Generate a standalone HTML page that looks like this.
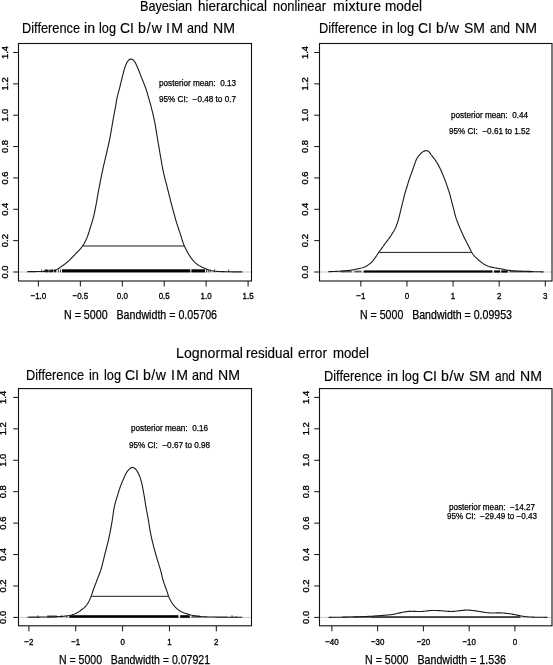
<!DOCTYPE html>
<html><head><meta charset="utf-8"><style>
html,body{margin:0;padding:0;background:#fff;width:553px;height:665px;overflow:hidden}
body{position:relative;font-family:"Liberation Sans", sans-serif}
text{white-space:pre;stroke:#000;stroke-width:0.25px}
text.t{stroke-width:0.15px}
text.k{stroke-width:0.35px}
svg{will-change:transform}
</style></head><body>
<svg width="553" height="665" viewBox="0 0 553 665" style="position:absolute;left:0;top:0" font-family='&quot;Liberation Sans&quot;, sans-serif'>
<rect width="553" height="665" fill="#fff"/>
<line x1="18.50" y1="272.00" x2="251.50" y2="272.00" stroke="#bbb" stroke-width="0.8"/>
<line x1="319.50" y1="272.00" x2="552.00" y2="272.00" stroke="#bbb" stroke-width="0.8"/>
<line x1="18.50" y1="617.40" x2="251.50" y2="617.40" stroke="#bbb" stroke-width="0.8"/>
<line x1="319.50" y1="617.40" x2="552.00" y2="617.40" stroke="#bbb" stroke-width="0.8"/>
<rect x="18.50" y="43.50" width="233.00" height="237.50" fill="none" stroke="#111" stroke-width="1.1"/>
<rect x="319.50" y="43.50" width="232.50" height="237.50" fill="none" stroke="#111" stroke-width="1.1"/>
<rect x="18.50" y="388.60" width="233.00" height="237.20" fill="none" stroke="#111" stroke-width="1.1"/>
<rect x="319.50" y="388.60" width="232.50" height="237.20" fill="none" stroke="#111" stroke-width="1.1"/>
<rect x="62.00" y="269.30" width="128.30" height="3.10" fill="#000" fill-opacity="1.00"/>
<rect x="191.40" y="269.30" width="13.60" height="3.10" fill="#000" fill-opacity="1.00"/>
<rect x="44.50" y="269.50" width="4.00" height="2.80" fill="#000" fill-opacity="0.90"/>
<rect x="49.50" y="269.50" width="3.50" height="2.80" fill="#000" fill-opacity="0.90"/>
<rect x="54.00" y="269.50" width="2.30" height="2.80" fill="#000" fill-opacity="0.90"/>
<rect x="41.00" y="269.50" width="1.00" height="2.80" fill="#000" fill-opacity="0.70"/>
<rect x="58.10" y="269.50" width="1.00" height="2.80" fill="#000" fill-opacity="0.70"/>
<rect x="60.00" y="269.50" width="1.00" height="2.80" fill="#000" fill-opacity="0.70"/>
<rect x="206.00" y="269.50" width="1.00" height="2.80" fill="#000" fill-opacity="0.70"/>
<rect x="207.80" y="269.50" width="1.00" height="2.80" fill="#000" fill-opacity="0.70"/>
<rect x="209.70" y="269.50" width="1.00" height="2.80" fill="#000" fill-opacity="0.70"/>
<rect x="214.00" y="269.50" width="1.00" height="2.80" fill="#000" fill-opacity="0.70"/>
<rect x="228.10" y="269.50" width="1.00" height="2.80" fill="#000" fill-opacity="0.70"/>
<rect x="363.60" y="270.40" width="128.90" height="2.20" fill="#000" fill-opacity="1.00"/>
<rect x="494.10" y="270.40" width="6.00" height="2.20" fill="#000" fill-opacity="1.00"/>
<rect x="501.20" y="270.40" width="6.50" height="2.20" fill="#000" fill-opacity="1.00"/>
<rect x="340.80" y="270.60" width="10.90" height="1.80" fill="#000" fill-opacity="0.60"/>
<rect x="354.40" y="270.60" width="7.20" height="1.80" fill="#000" fill-opacity="0.60"/>
<rect x="509.30" y="270.60" width="21.70" height="1.80" fill="#000" fill-opacity="0.60"/>
<rect x="69.40" y="615.20" width="109.00" height="2.60" fill="#000" fill-opacity="1.00"/>
<rect x="180.10" y="615.20" width="9.70" height="2.60" fill="#000" fill-opacity="1.00"/>
<rect x="47.10" y="615.40" width="9.80" height="2.20" fill="#000" fill-opacity="0.60"/>
<rect x="191.50" y="615.40" width="8.60" height="2.20" fill="#000" fill-opacity="0.60"/>
<rect x="37.40" y="615.40" width="1.00" height="2.20" fill="#000" fill-opacity="0.80"/>
<rect x="60.70" y="615.40" width="1.00" height="2.20" fill="#000" fill-opacity="0.80"/>
<rect x="66.20" y="615.40" width="1.00" height="2.20" fill="#000" fill-opacity="0.80"/>
<rect x="200.10" y="616.20" width="5.50" height="1.40" fill="#000" fill-opacity="0.25"/>
<rect x="231.50" y="615.40" width="1.00" height="2.40" fill="#000" fill-opacity="0.90"/>
<rect x="234.30" y="616.00" width="3.30" height="1.60" fill="#000" fill-opacity="0.30"/>
<rect x="371.00" y="616.10" width="149.40" height="1.90" fill="#222" fill-opacity="0.85"/>
<rect x="352.80" y="616.10" width="18.20" height="1.90" fill="#222" fill-opacity="0.60"/>
<rect x="343.00" y="616.10" width="9.80" height="1.90" fill="#000" fill-opacity="0.30"/>
<line x1="13.20" y1="272.00" x2="18.50" y2="272.00" stroke="#111" stroke-width="1.00"/>
<line x1="13.20" y1="240.64" x2="18.50" y2="240.64" stroke="#111" stroke-width="1.00"/>
<line x1="13.20" y1="209.29" x2="18.50" y2="209.29" stroke="#111" stroke-width="1.00"/>
<line x1="13.20" y1="177.93" x2="18.50" y2="177.93" stroke="#111" stroke-width="1.00"/>
<line x1="13.20" y1="146.57" x2="18.50" y2="146.57" stroke="#111" stroke-width="1.00"/>
<line x1="13.20" y1="115.21" x2="18.50" y2="115.21" stroke="#111" stroke-width="1.00"/>
<line x1="13.20" y1="83.86" x2="18.50" y2="83.86" stroke="#111" stroke-width="1.00"/>
<line x1="13.20" y1="52.50" x2="18.50" y2="52.50" stroke="#111" stroke-width="1.00"/>
<line x1="38.40" y1="281.00" x2="38.40" y2="286.50" stroke="#111" stroke-width="1.00"/>
<line x1="80.35" y1="281.00" x2="80.35" y2="286.50" stroke="#111" stroke-width="1.00"/>
<line x1="122.30" y1="281.00" x2="122.30" y2="286.50" stroke="#111" stroke-width="1.00"/>
<line x1="164.20" y1="281.00" x2="164.20" y2="286.50" stroke="#111" stroke-width="1.00"/>
<line x1="206.10" y1="281.00" x2="206.10" y2="286.50" stroke="#111" stroke-width="1.00"/>
<line x1="248.10" y1="281.00" x2="248.10" y2="286.50" stroke="#111" stroke-width="1.00"/>
<line x1="314.20" y1="272.00" x2="319.50" y2="272.00" stroke="#111" stroke-width="1.00"/>
<line x1="314.20" y1="240.64" x2="319.50" y2="240.64" stroke="#111" stroke-width="1.00"/>
<line x1="314.20" y1="209.29" x2="319.50" y2="209.29" stroke="#111" stroke-width="1.00"/>
<line x1="314.20" y1="177.93" x2="319.50" y2="177.93" stroke="#111" stroke-width="1.00"/>
<line x1="314.20" y1="146.57" x2="319.50" y2="146.57" stroke="#111" stroke-width="1.00"/>
<line x1="314.20" y1="115.21" x2="319.50" y2="115.21" stroke="#111" stroke-width="1.00"/>
<line x1="314.20" y1="83.86" x2="319.50" y2="83.86" stroke="#111" stroke-width="1.00"/>
<line x1="314.20" y1="52.50" x2="319.50" y2="52.50" stroke="#111" stroke-width="1.00"/>
<line x1="360.85" y1="281.00" x2="360.85" y2="286.50" stroke="#111" stroke-width="1.00"/>
<line x1="406.96" y1="281.00" x2="406.96" y2="286.50" stroke="#111" stroke-width="1.00"/>
<line x1="453.07" y1="281.00" x2="453.07" y2="286.50" stroke="#111" stroke-width="1.00"/>
<line x1="499.18" y1="281.00" x2="499.18" y2="286.50" stroke="#111" stroke-width="1.00"/>
<line x1="545.30" y1="281.00" x2="545.30" y2="286.50" stroke="#111" stroke-width="1.00"/>
<line x1="13.20" y1="617.40" x2="18.50" y2="617.40" stroke="#111" stroke-width="1.00"/>
<line x1="13.20" y1="585.97" x2="18.50" y2="585.97" stroke="#111" stroke-width="1.00"/>
<line x1="13.20" y1="554.54" x2="18.50" y2="554.54" stroke="#111" stroke-width="1.00"/>
<line x1="13.20" y1="523.11" x2="18.50" y2="523.11" stroke="#111" stroke-width="1.00"/>
<line x1="13.20" y1="491.69" x2="18.50" y2="491.69" stroke="#111" stroke-width="1.00"/>
<line x1="13.20" y1="460.26" x2="18.50" y2="460.26" stroke="#111" stroke-width="1.00"/>
<line x1="13.20" y1="428.83" x2="18.50" y2="428.83" stroke="#111" stroke-width="1.00"/>
<line x1="13.20" y1="397.40" x2="18.50" y2="397.40" stroke="#111" stroke-width="1.00"/>
<line x1="28.90" y1="625.80" x2="28.90" y2="631.30" stroke="#111" stroke-width="1.00"/>
<line x1="75.75" y1="625.80" x2="75.75" y2="631.30" stroke="#111" stroke-width="1.00"/>
<line x1="122.60" y1="625.80" x2="122.60" y2="631.30" stroke="#111" stroke-width="1.00"/>
<line x1="169.45" y1="625.80" x2="169.45" y2="631.30" stroke="#111" stroke-width="1.00"/>
<line x1="216.30" y1="625.80" x2="216.30" y2="631.30" stroke="#111" stroke-width="1.00"/>
<line x1="314.20" y1="617.40" x2="319.50" y2="617.40" stroke="#111" stroke-width="1.00"/>
<line x1="314.20" y1="585.97" x2="319.50" y2="585.97" stroke="#111" stroke-width="1.00"/>
<line x1="314.20" y1="554.54" x2="319.50" y2="554.54" stroke="#111" stroke-width="1.00"/>
<line x1="314.20" y1="523.11" x2="319.50" y2="523.11" stroke="#111" stroke-width="1.00"/>
<line x1="314.20" y1="491.69" x2="319.50" y2="491.69" stroke="#111" stroke-width="1.00"/>
<line x1="314.20" y1="460.26" x2="319.50" y2="460.26" stroke="#111" stroke-width="1.00"/>
<line x1="314.20" y1="428.83" x2="319.50" y2="428.83" stroke="#111" stroke-width="1.00"/>
<line x1="314.20" y1="397.40" x2="319.50" y2="397.40" stroke="#111" stroke-width="1.00"/>
<line x1="331.90" y1="625.80" x2="331.90" y2="631.30" stroke="#111" stroke-width="1.00"/>
<line x1="377.65" y1="625.80" x2="377.65" y2="631.30" stroke="#111" stroke-width="1.00"/>
<line x1="423.40" y1="625.80" x2="423.40" y2="631.30" stroke="#111" stroke-width="1.00"/>
<line x1="469.15" y1="625.80" x2="469.15" y2="631.30" stroke="#111" stroke-width="1.00"/>
<line x1="514.90" y1="625.80" x2="514.90" y2="631.30" stroke="#111" stroke-width="1.00"/>
<line x1="82.30" y1="246.00" x2="184.20" y2="246.00" stroke="#1a1a1a" stroke-width="1.00"/>
<line x1="379.30" y1="252.40" x2="471.60" y2="252.40" stroke="#1a1a1a" stroke-width="1.00"/>
<line x1="91.20" y1="596.30" x2="168.60" y2="596.30" stroke="#1a1a1a" stroke-width="1.00"/>
<path d="M27.13,271.69 L27.76,271.68 L28.58,271.67 L29.52,271.66 L30.51,271.65 L31.50,271.64 L32.50,271.63 L33.50,271.61 L34.51,271.60 L35.51,271.58 L36.51,271.57 L37.51,271.55 L38.51,271.53 L39.51,271.51 L40.51,271.49 L41.51,271.46 L42.51,271.43 L43.51,271.40 L44.51,271.37 L45.51,271.34 L46.51,271.30 L47.51,271.25 L48.51,271.19 L49.51,271.12 L50.50,271.03 L51.50,270.93 L52.49,270.79 L53.47,270.62 L54.44,270.40 L55.39,270.11 L56.31,269.74 L57.20,269.30 L58.05,268.80 L58.90,268.26 L59.73,267.71 L60.55,267.14 L61.37,266.57 L62.19,265.99 L63.00,265.41 L63.82,264.82 L64.63,264.24 L65.43,263.64 L66.22,263.02 L66.99,262.39 L67.74,261.73 L68.48,261.05 L69.20,260.37 L69.92,259.67 L70.64,258.97 L71.35,258.26 L72.05,257.55 L72.76,256.84 L73.46,256.13 L74.15,255.41 L74.85,254.69 L75.54,253.97 L76.23,253.24 L76.92,252.52 L77.61,251.79 L78.30,251.06 L78.98,250.33 L79.65,249.59 L80.31,248.84 L80.95,248.07 L81.58,247.29 L82.18,246.49 L82.76,245.68 L83.31,244.84 L83.83,243.99 L84.33,243.13 L84.82,242.25 L85.28,241.37 L85.73,240.47 L86.16,239.57 L86.57,238.66 L86.96,237.74 L87.34,236.81 L87.69,235.87 L88.02,234.93 L88.34,233.98 L88.65,233.03 L88.96,232.08 L89.27,231.13 L89.57,230.17 L89.86,229.21 L90.15,228.26 L90.44,227.30 L90.72,226.34 L91.01,225.38 L91.30,224.42 L91.59,223.47 L91.89,222.51 L92.18,221.55 L92.48,220.60 L92.77,219.64 L93.04,218.68 L93.31,217.71 L93.57,216.75 L93.81,215.78 L94.04,214.80 L94.26,213.83 L94.47,212.85 L94.68,211.87 L94.88,210.89 L95.08,209.91 L95.27,208.93 L95.46,207.94 L95.65,206.96 L95.84,205.98 L96.02,204.99 L96.20,204.01 L96.38,203.02 L96.55,202.04 L96.72,201.05 L96.89,200.07 L97.07,199.08 L97.24,198.10 L97.41,197.11 L97.58,196.12 L97.75,195.14 L97.92,194.15 L98.10,193.17 L98.27,192.18 L98.45,191.20 L98.63,190.21 L98.81,189.23 L99.00,188.24 L99.19,187.26 L99.38,186.28 L99.57,185.30 L99.76,184.31 L99.95,183.33 L100.14,182.35 L100.33,181.37 L100.53,180.39 L100.72,179.40 L100.91,178.42 L101.11,177.44 L101.31,176.46 L101.51,175.48 L101.71,174.50 L101.91,173.52 L102.12,172.54 L102.33,171.56 L102.54,170.58 L102.75,169.61 L102.97,168.63 L103.19,167.65 L103.41,166.68 L103.63,165.70 L103.85,164.72 L104.08,163.75 L104.31,162.77 L104.53,161.80 L104.76,160.83 L104.99,159.85 L105.21,158.88 L105.44,157.90 L105.67,156.93 L105.89,155.95 L106.11,154.98 L106.34,154.00 L106.56,153.03 L106.79,152.05 L107.01,151.07 L107.24,150.10 L107.46,149.13 L107.69,148.15 L107.91,147.18 L108.14,146.20 L108.36,145.22 L108.58,144.25 L108.80,143.27 L109.01,142.29 L109.23,141.32 L109.43,140.34 L109.64,139.36 L109.84,138.38 L110.03,137.40 L110.22,136.41 L110.41,135.43 L110.59,134.44 L110.76,133.46 L110.93,132.47 L111.11,131.49 L111.27,130.50 L111.44,129.51 L111.61,128.53 L111.77,127.54 L111.94,126.55 L112.10,125.57 L112.27,124.58 L112.44,123.59 L112.61,122.61 L112.78,121.62 L112.96,120.64 L113.13,119.65 L113.31,118.67 L113.49,117.68 L113.67,116.70 L113.85,115.71 L114.03,114.73 L114.21,113.75 L114.40,112.76 L114.58,111.78 L114.76,110.79 L114.94,109.81 L115.12,108.82 L115.30,107.84 L115.48,106.85 L115.65,105.87 L115.82,104.88 L115.99,103.90 L116.16,102.91 L116.32,101.92 L116.49,100.94 L116.66,99.95 L116.84,98.97 L117.03,97.98 L117.24,97.01 L117.47,96.03 L117.71,95.06 L117.96,94.09 L118.22,93.13 L118.49,92.16 L118.76,91.20 L119.02,90.23 L119.28,89.27 L119.54,88.30 L119.79,87.33 L120.03,86.36 L120.27,85.39 L120.50,84.41 L120.73,83.44 L120.97,82.47 L121.20,81.49 L121.43,80.52 L121.67,79.55 L121.91,78.58 L122.16,77.61 L122.40,76.64 L122.66,75.67 L122.91,74.70 L123.16,73.73 L123.40,72.76 L123.65,71.79 L123.90,70.82 L124.16,69.86 L124.44,68.90 L124.75,67.95 L125.08,67.00 L125.41,66.06 L125.76,65.12 L126.13,64.20 L126.55,63.29 L127.01,62.41 L127.52,61.56 L128.10,60.76 L128.76,60.06 L129.51,59.50 L130.34,59.15 L131.22,59.06 L132.08,59.24 L132.88,59.68 L133.60,60.30 L134.22,61.05 L134.77,61.87 L135.27,62.73 L135.74,63.61 L136.18,64.51 L136.61,65.41 L137.02,66.32 L137.43,67.23 L137.83,68.15 L138.22,69.08 L138.59,70.00 L138.95,70.94 L139.30,71.87 L139.66,72.81 L140.02,73.74 L140.38,74.67 L140.75,75.61 L141.12,76.54 L141.49,77.47 L141.86,78.39 L142.23,79.32 L142.61,80.25 L142.99,81.18 L143.36,82.11 L143.74,83.03 L144.11,83.96 L144.48,84.89 L144.85,85.82 L145.20,86.76 L145.54,87.70 L145.87,88.65 L146.18,89.60 L146.49,90.55 L146.78,91.51 L147.07,92.46 L147.35,93.42 L147.62,94.39 L147.90,95.35 L148.18,96.31 L148.46,97.27 L148.74,98.23 L149.02,99.19 L149.31,100.15 L149.59,101.11 L149.87,102.07 L150.15,103.03 L150.41,104.00 L150.67,104.96 L150.93,105.93 L151.17,106.90 L151.42,107.87 L151.67,108.84 L151.91,109.81 L152.15,110.78 L152.39,111.75 L152.63,112.73 L152.86,113.70 L153.09,114.67 L153.32,115.65 L153.54,116.62 L153.76,117.60 L153.98,118.58 L154.19,119.55 L154.39,120.53 L154.59,121.51 L154.79,122.50 L154.97,123.48 L155.15,124.46 L155.33,125.45 L155.50,126.43 L155.67,127.42 L155.83,128.41 L155.99,129.40 L156.15,130.38 L156.31,131.37 L156.47,132.36 L156.63,133.35 L156.79,134.34 L156.95,135.32 L157.11,136.31 L157.27,137.30 L157.43,138.29 L157.60,139.27 L157.76,140.26 L157.93,141.25 L158.10,142.23 L158.26,143.22 L158.43,144.21 L158.59,145.20 L158.76,146.18 L158.93,147.17 L159.09,148.16 L159.26,149.14 L159.43,150.13 L159.60,151.12 L159.77,152.10 L159.94,153.09 L160.11,154.07 L160.28,155.06 L160.45,156.05 L160.62,157.03 L160.79,158.02 L160.95,159.01 L161.12,159.99 L161.29,160.98 L161.46,161.96 L161.63,162.95 L161.80,163.94 L161.98,164.92 L162.16,165.91 L162.34,166.89 L162.53,167.87 L162.72,168.85 L162.92,169.84 L163.13,170.81 L163.34,171.79 L163.55,172.77 L163.78,173.75 L164.01,174.72 L164.24,175.69 L164.48,176.67 L164.72,177.64 L164.96,178.61 L165.21,179.58 L165.46,180.55 L165.71,181.51 L165.96,182.48 L166.21,183.45 L166.46,184.42 L166.71,185.39 L166.96,186.36 L167.20,187.33 L167.45,188.30 L167.69,189.27 L167.94,190.24 L168.18,191.21 L168.42,192.18 L168.67,193.15 L168.91,194.12 L169.16,195.09 L169.40,196.06 L169.65,197.03 L169.89,198.01 L170.14,198.98 L170.38,199.95 L170.63,200.91 L170.88,201.88 L171.13,202.85 L171.38,203.82 L171.63,204.79 L171.88,205.76 L172.14,206.73 L172.40,207.69 L172.66,208.66 L172.92,209.63 L173.18,210.59 L173.45,211.56 L173.71,212.52 L173.98,213.49 L174.25,214.45 L174.51,215.42 L174.77,216.38 L175.04,217.35 L175.30,218.31 L175.57,219.28 L175.84,220.24 L176.12,221.20 L176.41,222.16 L176.71,223.11 L177.01,224.07 L177.32,225.02 L177.63,225.97 L177.95,226.92 L178.26,227.87 L178.58,228.82 L178.90,229.76 L179.22,230.71 L179.54,231.66 L179.86,232.61 L180.18,233.56 L180.49,234.51 L180.80,235.46 L181.09,236.42 L181.39,237.37 L181.68,238.33 L181.97,239.29 L182.27,240.24 L182.58,241.20 L182.90,242.14 L183.23,243.09 L183.58,244.02 L183.95,244.95 L184.35,245.87 L184.75,246.79 L185.17,247.69 L185.61,248.60 L186.05,249.49 L186.50,250.38 L186.97,251.27 L187.45,252.15 L187.94,253.02 L188.44,253.89 L188.96,254.74 L189.49,255.59 L190.04,256.42 L190.61,257.25 L191.19,258.06 L191.80,258.85 L192.42,259.64 L193.07,260.40 L193.73,261.14 L194.42,261.87 L195.14,262.56 L195.88,263.23 L196.65,263.87 L197.44,264.48 L198.25,265.06 L199.09,265.60 L199.95,266.11 L200.83,266.58 L201.72,267.04 L202.63,267.46 L203.54,267.87 L204.46,268.27 L205.38,268.65 L206.31,269.02 L207.25,269.38 L208.18,269.73 L209.13,270.05 L210.08,270.34 L211.05,270.59 L212.03,270.80 L213.01,270.97 L214.00,271.10 L215.00,271.21 L215.99,271.31 L216.99,271.38 L217.99,271.44 L218.99,271.49 L219.99,271.54 L220.99,271.58 L221.99,271.61 L222.99,271.64 L223.99,271.66 L224.99,271.69 L225.99,271.71 L226.99,271.73 L227.99,271.76 L228.99,271.78 L229.99,271.80 L230.99,271.82 L231.99,271.84 L232.99,271.85 L233.99,271.86 L234.99,271.87 L235.99,271.88 L237.00,271.88 L238.00,271.89 L238.99,271.89 L239.98,271.89 L240.92,271.89 L241.74,271.90 L242.37,271.90" fill="none" stroke="#1a1a1a" stroke-width="1.10" stroke-linejoin="round"/>
<path d="M328.33,271.68 L328.95,271.66 L329.78,271.63 L330.72,271.60 L331.70,271.56 L332.70,271.53 L333.70,271.49 L334.70,271.45 L335.70,271.41 L336.70,271.37 L337.70,271.32 L338.70,271.27 L339.70,271.21 L340.69,271.15 L341.69,271.08 L342.69,271.00 L343.69,270.92 L344.68,270.83 L345.68,270.74 L346.68,270.65 L347.67,270.55 L348.67,270.45 L349.66,270.33 L350.65,270.21 L351.64,270.06 L352.63,269.89 L353.61,269.70 L354.59,269.49 L355.56,269.29 L356.54,269.08 L357.52,268.88 L358.51,268.68 L359.48,268.48 L360.46,268.27 L361.44,268.04 L362.40,267.78 L363.35,267.48 L364.27,267.11 L365.17,266.69 L366.05,266.22 L366.91,265.71 L367.76,265.18 L368.59,264.63 L369.40,264.05 L370.19,263.44 L370.95,262.79 L371.67,262.10 L372.36,261.38 L373.01,260.63 L373.64,259.85 L374.24,259.05 L374.83,258.24 L375.41,257.43 L375.97,256.60 L376.53,255.77 L377.07,254.93 L377.62,254.09 L378.16,253.25 L378.72,252.42 L379.29,251.60 L379.88,250.79 L380.48,249.99 L381.09,249.20 L381.69,248.40 L382.28,247.59 L382.86,246.77 L383.43,245.95 L384.00,245.13 L384.57,244.31 L385.15,243.49 L385.74,242.69 L386.35,241.89 L386.96,241.10 L387.57,240.31 L388.18,239.52 L388.78,238.72 L389.37,237.91 L389.94,237.09 L390.51,236.26 L391.06,235.43 L391.61,234.59 L392.16,233.76 L392.71,232.92 L393.24,232.08 L393.77,231.22 L394.27,230.36 L394.74,229.48 L395.17,228.58 L395.57,227.67 L395.95,226.74 L396.31,225.80 L396.66,224.87 L397.01,223.93 L397.36,223.00 L397.69,222.05 L398.00,221.10 L398.29,220.14 L398.56,219.18 L398.81,218.21 L399.06,217.24 L399.30,216.27 L399.53,215.30 L399.77,214.33 L400.00,213.35 L400.23,212.38 L400.46,211.41 L400.70,210.43 L400.93,209.46 L401.16,208.49 L401.40,207.52 L401.63,206.54 L401.87,205.57 L402.11,204.60 L402.36,203.63 L402.61,202.66 L402.87,201.70 L403.12,200.73 L403.36,199.76 L403.59,198.78 L403.80,197.81 L404.02,196.83 L404.25,195.86 L404.50,194.89 L404.76,193.92 L405.05,192.97 L405.35,192.01 L405.65,191.06 L405.95,190.10 L406.25,189.15 L406.55,188.19 L406.85,187.24 L407.14,186.28 L407.42,185.32 L407.70,184.36 L407.98,183.40 L408.26,182.44 L408.55,181.48 L408.85,180.53 L409.16,179.58 L409.48,178.63 L409.81,177.68 L410.14,176.74 L410.49,175.80 L410.84,174.87 L411.19,173.93 L411.55,172.99 L411.89,172.05 L412.23,171.11 L412.57,170.17 L412.90,169.23 L413.23,168.28 L413.54,167.33 L413.85,166.38 L414.16,165.43 L414.48,164.48 L414.81,163.54 L415.14,162.59 L415.50,161.66 L415.87,160.73 L416.27,159.82 L416.71,158.92 L417.19,158.04 L417.70,157.19 L418.26,156.36 L418.86,155.57 L419.50,154.81 L420.19,154.08 L420.90,153.39 L421.65,152.73 L422.43,152.12 L423.26,151.58 L424.13,151.14 L425.05,150.82 L425.99,150.66 L426.93,150.69 L427.81,150.94 L428.60,151.40 L429.27,152.05 L429.86,152.82 L430.41,153.64 L430.97,154.47 L431.55,155.27 L432.16,156.07 L432.78,156.85 L433.41,157.63 L434.02,158.42 L434.62,159.22 L435.21,160.03 L435.78,160.85 L436.33,161.68 L436.87,162.52 L437.39,163.38 L437.89,164.24 L438.37,165.12 L438.84,166.00 L439.29,166.89 L439.74,167.79 L440.18,168.69 L440.61,169.59 L441.04,170.50 L441.45,171.41 L441.86,172.32 L442.25,173.24 L442.63,174.17 L443.01,175.09 L443.38,176.02 L443.75,176.95 L444.12,177.88 L444.49,178.81 L444.86,179.74 L445.23,180.67 L445.58,181.61 L445.91,182.55 L446.24,183.50 L446.56,184.44 L446.87,185.39 L447.20,186.34 L447.53,187.28 L447.86,188.23 L448.19,189.17 L448.52,190.12 L448.84,191.06 L449.15,192.01 L449.45,192.97 L449.74,193.93 L450.02,194.89 L450.27,195.86 L450.52,196.83 L450.75,197.80 L450.99,198.77 L451.23,199.74 L451.47,200.71 L451.73,201.68 L451.98,202.65 L452.24,203.61 L452.50,204.58 L452.75,205.55 L453.00,206.52 L453.25,207.48 L453.50,208.45 L453.75,209.42 L454.00,210.39 L454.24,211.36 L454.48,212.33 L454.73,213.30 L454.97,214.27 L455.22,215.24 L455.48,216.21 L455.75,217.17 L456.05,218.13 L456.37,219.07 L456.70,220.01 L457.06,220.95 L457.42,221.88 L457.78,222.82 L458.15,223.75 L458.52,224.68 L458.89,225.60 L459.28,226.53 L459.66,227.45 L460.06,228.37 L460.47,229.28 L460.87,230.20 L461.28,231.11 L461.68,232.03 L462.08,232.95 L462.47,233.87 L462.88,234.78 L463.29,235.69 L463.72,236.60 L464.16,237.50 L464.61,238.39 L465.06,239.28 L465.52,240.17 L465.98,241.06 L466.44,241.95 L466.89,242.84 L467.35,243.73 L467.81,244.62 L468.27,245.51 L468.73,246.39 L469.19,247.28 L469.65,248.17 L470.09,249.06 L470.52,249.97 L470.95,250.87 L471.39,251.76 L471.87,252.63 L472.40,253.47 L472.97,254.28 L473.59,255.07 L474.24,255.83 L474.91,256.56 L475.62,257.27 L476.34,257.97 L477.07,258.65 L477.81,259.32 L478.56,259.98 L479.33,260.63 L480.10,261.26 L480.88,261.89 L481.67,262.49 L482.48,263.08 L483.31,263.64 L484.15,264.18 L485.02,264.68 L485.90,265.14 L486.80,265.57 L487.72,265.96 L488.65,266.31 L489.60,266.62 L490.56,266.90 L491.53,267.15 L492.50,267.37 L493.48,267.57 L494.47,267.76 L495.45,267.94 L496.44,268.11 L497.42,268.29 L498.41,268.46 L499.39,268.62 L500.38,268.79 L501.37,268.96 L502.35,269.13 L503.33,269.32 L504.31,269.52 L505.29,269.73 L506.27,269.94 L507.25,270.13 L508.24,270.29 L509.23,270.42 L510.22,270.54 L511.22,270.64 L512.21,270.74 L513.21,270.82 L514.21,270.90 L515.20,270.98 L516.20,271.05 L517.20,271.12 L518.20,271.19 L519.20,271.25 L520.20,271.30 L521.19,271.35 L522.19,271.40 L523.19,271.43 L524.19,271.47 L525.19,271.49 L526.19,271.52 L527.19,271.54 L528.20,271.56 L529.20,271.58 L530.20,271.60 L531.20,271.63 L532.20,271.65 L533.20,271.67 L534.20,271.69 L535.20,271.72 L536.20,271.74 L537.20,271.76 L538.20,271.78 L539.20,271.80 L540.20,271.82 L541.18,271.84 L542.12,271.86 L542.94,271.87 L543.57,271.89" fill="none" stroke="#1a1a1a" stroke-width="1.10" stroke-linejoin="round"/>
<path d="M27.33,617.19 L27.96,617.19 L28.78,617.18 L29.72,617.17 L30.71,617.16 L31.70,617.15 L32.70,617.15 L33.70,617.14 L34.70,617.13 L35.71,617.12 L36.71,617.11 L37.71,617.10 L38.71,617.09 L39.71,617.08 L40.71,617.06 L41.71,617.05 L42.71,617.04 L43.71,617.02 L44.71,617.00 L45.71,616.98 L46.71,616.96 L47.71,616.94 L48.71,616.92 L49.71,616.89 L50.71,616.86 L51.71,616.83 L52.71,616.80 L53.71,616.77 L54.71,616.73 L55.71,616.69 L56.71,616.65 L57.71,616.61 L58.71,616.56 L59.71,616.51 L60.71,616.46 L61.71,616.40 L62.71,616.33 L63.70,616.25 L64.70,616.16 L65.70,616.05 L66.69,615.93 L67.68,615.79 L68.66,615.62 L69.64,615.43 L70.62,615.20 L71.58,614.94 L72.54,614.65 L73.48,614.32 L74.41,613.96 L75.33,613.56 L76.23,613.14 L77.12,612.68 L77.99,612.18 L78.84,611.66 L79.67,611.11 L80.49,610.54 L81.30,609.95 L82.10,609.35 L82.89,608.73 L83.67,608.10 L84.42,607.45 L85.14,606.76 L85.83,606.04 L86.47,605.28 L87.06,604.48 L87.61,603.65 L88.12,602.79 L88.60,601.91 L89.06,601.02 L89.50,600.12 L89.92,599.22 L90.32,598.30 L90.71,597.38 L91.07,596.45 L91.43,595.51 L91.76,594.57 L92.07,593.62 L92.38,592.67 L92.69,591.72 L93.00,590.76 L93.32,589.82 L93.65,588.87 L93.99,587.93 L94.34,586.99 L94.71,586.06 L95.08,585.13 L95.45,584.20 L95.81,583.27 L96.17,582.34 L96.51,581.40 L96.86,580.46 L97.21,579.52 L97.57,578.59 L97.93,577.65 L98.29,576.72 L98.66,575.79 L99.02,574.86 L99.39,573.93 L99.76,573.00 L100.12,572.07 L100.47,571.13 L100.80,570.18 L101.10,569.23 L101.38,568.27 L101.64,567.30 L101.89,566.34 L102.13,565.37 L102.37,564.39 L102.61,563.42 L102.85,562.45 L103.09,561.48 L103.32,560.51 L103.56,559.53 L103.80,558.56 L104.03,557.59 L104.27,556.62 L104.52,555.65 L104.76,554.68 L105.01,553.71 L105.26,552.74 L105.51,551.77 L105.76,550.80 L106.00,549.83 L106.25,548.86 L106.50,547.89 L106.74,546.92 L106.99,545.95 L107.23,544.98 L107.48,544.01 L107.72,543.04 L107.96,542.07 L108.20,541.10 L108.43,540.12 L108.65,539.15 L108.87,538.17 L109.09,537.19 L109.30,536.21 L109.50,535.23 L109.69,534.25 L109.89,533.27 L110.08,532.29 L110.26,531.31 L110.45,530.32 L110.64,529.34 L110.82,528.36 L111.00,527.37 L111.19,526.39 L111.37,525.40 L111.54,524.42 L111.72,523.43 L111.89,522.45 L112.06,521.46 L112.22,520.47 L112.37,519.49 L112.52,518.50 L112.66,517.51 L112.80,516.52 L112.94,515.52 L113.08,514.53 L113.21,513.54 L113.35,512.55 L113.49,511.56 L113.64,510.57 L113.80,509.58 L113.98,508.60 L114.17,507.62 L114.38,506.64 L114.60,505.66 L114.84,504.69 L115.08,503.72 L115.34,502.76 L115.61,501.79 L115.89,500.83 L116.18,499.87 L116.48,498.92 L116.77,497.96 L117.06,497.00 L117.35,496.05 L117.63,495.09 L117.91,494.12 L118.19,493.16 L118.48,492.21 L118.78,491.25 L119.09,490.30 L119.40,489.35 L119.73,488.40 L120.06,487.46 L120.40,486.52 L120.75,485.58 L121.10,484.65 L121.47,483.71 L121.85,482.79 L122.23,481.86 L122.63,480.94 L123.03,480.03 L123.43,479.11 L123.83,478.19 L124.23,477.28 L124.63,476.36 L125.04,475.45 L125.47,474.55 L125.93,473.66 L126.42,472.79 L126.94,471.94 L127.52,471.13 L128.14,470.35 L128.82,469.63 L129.54,468.95 L130.30,468.33 L131.11,467.84 L131.96,467.54 L132.83,467.50 L133.69,467.74 L134.51,468.19 L135.26,468.79 L135.93,469.50 L136.53,470.29 L137.08,471.12 L137.59,471.97 L138.07,472.85 L138.53,473.74 L138.96,474.64 L139.36,475.55 L139.74,476.48 L140.09,477.41 L140.42,478.36 L140.71,479.31 L140.99,480.28 L141.24,481.24 L141.48,482.21 L141.72,483.19 L141.94,484.16 L142.17,485.14 L142.38,486.11 L142.58,487.09 L142.78,488.08 L142.96,489.06 L143.14,490.04 L143.32,491.03 L143.49,492.01 L143.66,493.00 L143.84,493.98 L144.01,494.97 L144.18,495.96 L144.35,496.94 L144.51,497.93 L144.66,498.92 L144.82,499.91 L144.97,500.90 L145.12,501.89 L145.27,502.88 L145.43,503.86 L145.59,504.85 L145.75,505.84 L145.92,506.83 L146.09,507.81 L146.26,508.80 L146.45,509.78 L146.63,510.76 L146.82,511.75 L147.01,512.73 L147.21,513.71 L147.40,514.69 L147.59,515.67 L147.78,516.66 L147.96,517.64 L148.14,518.63 L148.31,519.61 L148.47,520.60 L148.63,521.59 L148.78,522.58 L148.93,523.56 L149.08,524.55 L149.24,525.54 L149.39,526.53 L149.56,527.52 L149.72,528.51 L149.89,529.49 L150.07,530.48 L150.25,531.46 L150.44,532.44 L150.63,533.42 L150.83,534.41 L151.03,535.39 L151.23,536.37 L151.44,537.34 L151.66,538.32 L151.88,539.30 L152.10,540.27 L152.33,541.25 L152.57,542.22 L152.81,543.19 L153.05,544.16 L153.29,545.13 L153.54,546.10 L153.80,547.07 L154.05,548.04 L154.31,549.00 L154.57,549.97 L154.84,550.93 L155.11,551.90 L155.38,552.86 L155.65,553.82 L155.92,554.79 L156.20,555.75 L156.48,556.71 L156.76,557.67 L157.05,558.63 L157.33,559.59 L157.62,560.54 L157.91,561.50 L158.20,562.46 L158.49,563.42 L158.78,564.37 L159.08,565.33 L159.37,566.29 L159.67,567.24 L159.97,568.20 L160.26,569.16 L160.53,570.12 L160.80,571.08 L161.05,572.05 L161.29,573.02 L161.52,574.00 L161.74,574.97 L161.97,575.94 L162.20,576.92 L162.44,577.89 L162.69,578.86 L162.96,579.82 L163.25,580.78 L163.56,581.73 L163.88,582.68 L164.21,583.62 L164.54,584.57 L164.87,585.51 L165.21,586.45 L165.55,587.39 L165.88,588.34 L166.22,589.28 L166.56,590.22 L166.89,591.16 L167.21,592.11 L167.52,593.06 L167.83,594.02 L168.14,594.97 L168.47,595.91 L168.82,596.84 L169.21,597.76 L169.62,598.67 L170.06,599.58 L170.51,600.46 L171.00,601.34 L171.51,602.20 L172.05,603.04 L172.61,603.86 L173.21,604.67 L173.83,605.45 L174.47,606.21 L175.15,606.95 L175.85,607.66 L176.58,608.34 L177.34,608.99 L178.13,609.60 L178.94,610.18 L179.77,610.73 L180.63,611.25 L181.50,611.73 L182.40,612.17 L183.31,612.57 L184.24,612.94 L185.18,613.28 L186.13,613.59 L187.09,613.88 L188.05,614.17 L189.01,614.44 L189.97,614.71 L190.94,614.98 L191.91,615.22 L192.88,615.45 L193.86,615.67 L194.84,615.87 L195.82,616.05 L196.81,616.21 L197.80,616.34 L198.79,616.46 L199.79,616.56 L200.78,616.64 L201.78,616.71 L202.78,616.77 L203.78,616.82 L204.78,616.86 L205.78,616.89 L206.78,616.92 L207.78,616.95 L208.78,616.97 L209.78,616.99 L210.78,617.01 L211.78,617.03 L212.78,617.04 L213.78,617.06 L214.78,617.07 L215.78,617.08 L216.78,617.09 L217.78,617.10 L218.78,617.11 L219.79,617.12 L220.79,617.13 L221.79,617.13 L222.79,617.14 L223.79,617.15 L224.79,617.16 L225.79,617.17 L226.79,617.17 L227.79,617.18 L228.79,617.19 L229.79,617.20 L230.79,617.21 L231.79,617.22 L232.79,617.22 L233.79,617.23 L234.79,617.24 L235.80,617.25 L236.80,617.25 L237.80,617.26 L238.80,617.27 L239.79,617.28 L240.76,617.28 L241.65,617.29 L242.39,617.29" fill="none" stroke="#1a1a1a" stroke-width="1.10" stroke-linejoin="round"/>
<path d="M328.63,617.39 L329.26,617.38 L330.08,617.37 L331.02,617.35 L332.00,617.34 L333.00,617.32 L334.00,617.30 L335.00,617.29 L336.00,617.27 L337.00,617.25 L338.00,617.24 L339.01,617.22 L340.01,617.20 L341.01,617.18 L342.01,617.17 L343.01,617.15 L344.01,617.13 L345.01,617.11 L346.01,617.10 L347.01,617.08 L348.01,617.06 L349.01,617.04 L350.01,617.02 L351.01,617.00 L352.01,616.98 L353.01,616.95 L354.01,616.93 L355.01,616.90 L356.01,616.87 L357.01,616.83 L358.01,616.80 L359.01,616.77 L360.01,616.73 L361.01,616.69 L362.01,616.65 L363.01,616.62 L364.01,616.57 L365.01,616.53 L366.01,616.49 L367.01,616.44 L368.01,616.40 L369.01,616.35 L370.01,616.30 L371.01,616.24 L372.01,616.18 L373.01,616.12 L374.00,616.05 L375.00,615.98 L376.00,615.91 L377.00,615.83 L378.00,615.76 L378.99,615.68 L379.99,615.60 L380.99,615.53 L381.99,615.45 L382.98,615.37 L383.98,615.30 L384.98,615.22 L385.98,615.14 L386.97,615.06 L387.97,614.97 L388.97,614.88 L389.96,614.77 L390.96,614.66 L391.95,614.52 L392.93,614.37 L393.92,614.19 L394.90,613.99 L395.88,613.78 L396.85,613.56 L397.83,613.33 L398.80,613.10 L399.77,612.86 L400.75,612.63 L401.72,612.42 L402.70,612.22 L403.69,612.03 L404.67,611.86 L405.66,611.71 L406.65,611.58 L407.65,611.48 L408.64,611.41 L409.64,611.36 L410.64,611.33 L411.64,611.32 L412.64,611.32 L413.64,611.34 L414.64,611.36 L415.64,611.39 L416.64,611.43 L417.64,611.46 L418.64,611.48 L419.64,611.49 L420.64,611.48 L421.64,611.44 L422.64,611.38 L423.64,611.29 L424.63,611.18 L425.62,611.07 L426.62,610.95 L427.61,610.84 L428.61,610.74 L429.60,610.65 L430.60,610.57 L431.60,610.51 L432.60,610.46 L433.60,610.43 L434.60,610.43 L435.60,610.44 L436.60,610.47 L437.60,610.52 L438.59,610.58 L439.59,610.65 L440.59,610.72 L441.59,610.80 L442.59,610.87 L443.58,610.95 L444.58,611.04 L445.58,611.12 L446.57,611.21 L447.57,611.30 L448.57,611.37 L449.57,611.42 L450.57,611.45 L451.57,611.45 L452.56,611.42 L453.56,611.36 L454.56,611.28 L455.55,611.18 L456.55,611.07 L457.54,610.96 L458.54,610.85 L459.53,610.73 L460.52,610.61 L461.52,610.48 L462.51,610.36 L463.50,610.25 L464.50,610.15 L465.50,610.08 L466.49,610.05 L467.49,610.05 L468.49,610.08 L469.49,610.15 L470.49,610.24 L471.48,610.35 L472.47,610.47 L473.46,610.60 L474.46,610.74 L475.45,610.88 L476.44,611.02 L477.43,611.16 L478.42,611.31 L479.41,611.46 L480.39,611.61 L481.38,611.77 L482.37,611.94 L483.36,612.11 L484.34,612.27 L485.33,612.42 L486.32,612.56 L487.31,612.69 L488.31,612.79 L489.30,612.87 L490.30,612.93 L491.30,612.96 L492.30,612.97 L493.30,612.97 L494.30,612.96 L495.30,612.94 L496.30,612.92 L497.30,612.90 L498.31,612.89 L499.31,612.89 L500.31,612.91 L501.31,612.94 L502.30,612.99 L503.30,613.06 L504.30,613.14 L505.30,613.23 L506.29,613.33 L507.29,613.44 L508.28,613.56 L509.27,613.69 L510.26,613.83 L511.25,613.99 L512.24,614.16 L513.22,614.34 L514.20,614.54 L515.18,614.74 L516.16,614.94 L517.14,615.14 L518.12,615.34 L519.10,615.54 L520.08,615.74 L521.06,615.93 L522.05,616.11 L523.03,616.29 L524.02,616.45 L525.01,616.58 L526.00,616.69 L527.00,616.79 L528.00,616.87 L529.00,616.93 L529.99,616.99 L530.99,617.04 L531.99,617.09 L532.99,617.13 L533.99,617.16 L534.99,617.19 L535.99,617.22 L536.99,617.24 L537.99,617.26 L538.99,617.27 L540.00,617.28 L541.00,617.30 L542.00,617.30 L543.00,617.31 L543.99,617.32 L544.98,617.33 L545.92,617.33 L546.74,617.34 L547.37,617.34" fill="none" stroke="#1a1a1a" stroke-width="1.10" stroke-linejoin="round"/>
<text id="t_main1_0" class="t" x="140.00" y="11.40" font-size="14.10" fill="#000" textLength="52.00" lengthAdjust="spacingAndGlyphs">Bayesian</text>
<text id="t_main1_1" class="t" x="198.00" y="11.40" font-size="14.10" fill="#000" textLength="69.00" lengthAdjust="spacingAndGlyphs">hierarchical</text>
<text id="t_main1_2" class="t" x="273.00" y="11.40" font-size="14.10" fill="#000" textLength="53.00" lengthAdjust="spacingAndGlyphs">nonlinear</text>
<text id="t_main1_3" class="t" x="333.00" y="11.40" font-size="14.10" fill="#000" textLength="48.00" lengthAdjust="spacing">mixture</text>
<text id="t_main1_4" class="t" x="385.00" y="11.40" font-size="14.10" fill="#000" textLength="37.00" lengthAdjust="spacingAndGlyphs">model</text>
<text id="t_main2_0" class="t" x="176.00" y="358.40" font-size="14.10" fill="#000" textLength="67.00" lengthAdjust="spacing">Lognormal</text>
<text id="t_main2_1" class="t" x="246.00" y="358.40" font-size="14.10" fill="#000" textLength="47.00" lengthAdjust="spacingAndGlyphs">residual</text>
<text id="t_main2_2" class="t" x="298.00" y="358.40" font-size="14.10" fill="#000" textLength="29.00" lengthAdjust="spacingAndGlyphs">error</text>
<text id="t_main2_3" class="t" x="333.00" y="358.40" font-size="14.10" fill="#000" textLength="36.00" lengthAdjust="spacingAndGlyphs">model</text>
<text id="yl1_0" class="k" transform="translate(7.90,272.00) rotate(-90)" font-size="9.40" fill="#000" text-anchor="middle">0.0</text>
<text id="yl1_1" class="k" transform="translate(7.90,240.64) rotate(-90)" font-size="9.40" fill="#000" text-anchor="middle">0.2</text>
<text id="yl1_2" class="k" transform="translate(7.90,209.29) rotate(-90)" font-size="9.40" fill="#000" text-anchor="middle">0.4</text>
<text id="yl1_3" class="k" transform="translate(7.90,177.93) rotate(-90)" font-size="9.40" fill="#000" text-anchor="middle">0.6</text>
<text id="yl1_4" class="k" transform="translate(7.90,146.57) rotate(-90)" font-size="9.40" fill="#000" text-anchor="middle">0.8</text>
<text id="yl1_5" class="k" transform="translate(7.90,115.21) rotate(-90)" font-size="9.40" fill="#000" text-anchor="middle">1.0</text>
<text id="yl1_6" class="k" transform="translate(7.90,83.86) rotate(-90)" font-size="9.40" fill="#000" text-anchor="middle">1.2</text>
<text id="yl1_7" class="k" transform="translate(7.90,52.50) rotate(-90)" font-size="9.40" fill="#000" text-anchor="middle">1.4</text>
<text id="xl1_0" class="k" transform="translate(38.40,298.80) scale(0.820,1)" font-size="9.70" fill="#000" text-anchor="middle">−1.0</text>
<text id="xl1_1" class="k" transform="translate(80.35,298.80) scale(0.820,1)" font-size="9.70" fill="#000" text-anchor="middle">−0.5</text>
<text id="xl1_2" class="k" transform="translate(122.30,298.80) scale(0.820,1)" font-size="9.70" fill="#000" text-anchor="middle">0.0</text>
<text id="xl1_3" class="k" transform="translate(164.20,298.80) scale(0.820,1)" font-size="9.70" fill="#000" text-anchor="middle">0.5</text>
<text id="xl1_4" class="k" transform="translate(206.10,298.80) scale(0.820,1)" font-size="9.70" fill="#000" text-anchor="middle">1.0</text>
<text id="xl1_5" class="k" transform="translate(248.10,298.80) scale(0.820,1)" font-size="9.70" fill="#000" text-anchor="middle">1.5</text>
<text id="ti1_0" class="t" x="22.00" y="33.10" font-size="14.10" fill="#000" textLength="58.00" lengthAdjust="spacingAndGlyphs">Difference</text>
<text id="ti1_1" class="t" x="84.00" y="33.10" font-size="14.10" fill="#000" textLength="11.00" lengthAdjust="spacing">in</text>
<text id="ti1_2" class="t" x="99.00" y="33.10" font-size="14.10" fill="#000" textLength="17.00" lengthAdjust="spacingAndGlyphs">log</text>
<text id="ti1_3" class="t" x="120.00" y="33.10" font-size="14.10" fill="#000" textLength="14.00" lengthAdjust="spacingAndGlyphs">CI</text>
<text id="ti1_4" class="t" x="138.00" y="33.10" font-size="14.10" fill="#000" textLength="24.00" lengthAdjust="spacing">b/w</text>
<text id="ti1_5" class="t" x="166.00" y="33.10" font-size="14.10" fill="#000" textLength="17.00" lengthAdjust="spacing">IM</text>
<text id="ti1_6" class="t" x="187.00" y="33.10" font-size="14.10" fill="#000" textLength="21.00" lengthAdjust="spacingAndGlyphs">and</text>
<text id="ti1_7" class="t" x="213.00" y="33.10" font-size="14.10" fill="#000" textLength="22.00" lengthAdjust="spacing">NM</text>
<text id="xb1" x="64.00" y="318.70" font-size="12.20" fill="#000" textLength="153.00" lengthAdjust="spacingAndGlyphs">N = 5000   Bandwidth = 0.05706</text>
<text id="an1_0" x="159.00" y="86.00" font-size="8.30" fill="#000" textLength="77.00" lengthAdjust="spacingAndGlyphs">posterior mean:  0.13</text>
<text id="an1_1" x="159.00" y="102.40" font-size="8.30" fill="#000" textLength="77.00" lengthAdjust="spacingAndGlyphs">95% CI:  −0.48 to 0.7</text>
<text id="yl2_0" class="k" transform="translate(308.00,272.00) rotate(-90)" font-size="9.40" fill="#000" text-anchor="middle">0.0</text>
<text id="yl2_1" class="k" transform="translate(308.00,240.64) rotate(-90)" font-size="9.40" fill="#000" text-anchor="middle">0.2</text>
<text id="yl2_2" class="k" transform="translate(308.00,209.29) rotate(-90)" font-size="9.40" fill="#000" text-anchor="middle">0.4</text>
<text id="yl2_3" class="k" transform="translate(308.00,177.93) rotate(-90)" font-size="9.40" fill="#000" text-anchor="middle">0.6</text>
<text id="yl2_4" class="k" transform="translate(308.00,146.57) rotate(-90)" font-size="9.40" fill="#000" text-anchor="middle">0.8</text>
<text id="yl2_5" class="k" transform="translate(308.00,115.21) rotate(-90)" font-size="9.40" fill="#000" text-anchor="middle">1.0</text>
<text id="yl2_6" class="k" transform="translate(308.00,83.86) rotate(-90)" font-size="9.40" fill="#000" text-anchor="middle">1.2</text>
<text id="yl2_7" class="k" transform="translate(308.00,52.50) rotate(-90)" font-size="9.40" fill="#000" text-anchor="middle">1.4</text>
<text id="xl2_0" class="k" transform="translate(360.85,299.00) scale(0.820,1)" font-size="9.70" fill="#000" text-anchor="middle">−1</text>
<text id="xl2_1" class="k" transform="translate(406.96,299.00) scale(0.820,1)" font-size="9.70" fill="#000" text-anchor="middle">0</text>
<text id="xl2_2" class="k" transform="translate(453.07,299.00) scale(0.820,1)" font-size="9.70" fill="#000" text-anchor="middle">1</text>
<text id="xl2_3" class="k" transform="translate(499.18,299.00) scale(0.820,1)" font-size="9.70" fill="#000" text-anchor="middle">2</text>
<text id="xl2_4" class="k" transform="translate(545.30,299.00) scale(0.820,1)" font-size="9.70" fill="#000" text-anchor="middle">3</text>
<text id="ti2_0" class="t" x="319.00" y="33.20" font-size="14.10" fill="#000" textLength="58.00" lengthAdjust="spacingAndGlyphs">Difference</text>
<text id="ti2_1" class="t" x="382.00" y="33.20" font-size="14.10" fill="#000" textLength="11.00" lengthAdjust="spacing">in</text>
<text id="ti2_2" class="t" x="397.00" y="33.20" font-size="14.10" fill="#000" textLength="17.00" lengthAdjust="spacingAndGlyphs">log</text>
<text id="ti2_3" class="t" x="418.00" y="33.20" font-size="14.10" fill="#000" textLength="14.00" lengthAdjust="spacingAndGlyphs">CI</text>
<text id="ti2_4" class="t" x="436.00" y="33.20" font-size="14.10" fill="#000" textLength="23.00" lengthAdjust="spacing">b/w</text>
<text id="ti2_5" class="t" x="464.00" y="33.20" font-size="14.10" fill="#000" textLength="21.00" lengthAdjust="spacingAndGlyphs">SM</text>
<text id="ti2_6" class="t" x="490.00" y="33.20" font-size="14.10" fill="#000" textLength="20.00" lengthAdjust="spacingAndGlyphs">and</text>
<text id="ti2_7" class="t" x="515.00" y="33.20" font-size="14.10" fill="#000" textLength="22.00" lengthAdjust="spacing">NM</text>
<text id="xb2" x="360.00" y="319.20" font-size="12.20" fill="#000" textLength="152.00" lengthAdjust="spacingAndGlyphs">N = 5000   Bandwidth = 0.09953</text>
<text id="an2_0" x="451.00" y="117.50" font-size="8.30" fill="#000" textLength="77.00" lengthAdjust="spacingAndGlyphs">posterior mean:  0.44</text>
<text id="an2_1" x="449.00" y="134.30" font-size="8.30" fill="#000" textLength="81.00" lengthAdjust="spacingAndGlyphs">95% CI:  −0.61 to 1.52</text>
<text id="yl3_0" class="k" transform="translate(6.20,617.40) rotate(-90)" font-size="9.40" fill="#000" text-anchor="middle">0.0</text>
<text id="yl3_1" class="k" transform="translate(6.20,585.97) rotate(-90)" font-size="9.40" fill="#000" text-anchor="middle">0.2</text>
<text id="yl3_2" class="k" transform="translate(6.20,554.54) rotate(-90)" font-size="9.40" fill="#000" text-anchor="middle">0.4</text>
<text id="yl3_3" class="k" transform="translate(6.20,523.11) rotate(-90)" font-size="9.40" fill="#000" text-anchor="middle">0.6</text>
<text id="yl3_4" class="k" transform="translate(6.20,491.69) rotate(-90)" font-size="9.40" fill="#000" text-anchor="middle">0.8</text>
<text id="yl3_5" class="k" transform="translate(6.20,460.26) rotate(-90)" font-size="9.40" fill="#000" text-anchor="middle">1.0</text>
<text id="yl3_6" class="k" transform="translate(6.20,428.83) rotate(-90)" font-size="9.40" fill="#000" text-anchor="middle">1.2</text>
<text id="yl3_7" class="k" transform="translate(6.20,397.40) rotate(-90)" font-size="9.40" fill="#000" text-anchor="middle">1.4</text>
<text id="xl3_0" class="k" transform="translate(28.90,644.60) scale(0.820,1)" font-size="9.70" fill="#000" text-anchor="middle">−2</text>
<text id="xl3_1" class="k" transform="translate(75.75,644.60) scale(0.820,1)" font-size="9.70" fill="#000" text-anchor="middle">−1</text>
<text id="xl3_2" class="k" transform="translate(122.60,644.60) scale(0.820,1)" font-size="9.70" fill="#000" text-anchor="middle">0</text>
<text id="xl3_3" class="k" transform="translate(169.45,644.60) scale(0.820,1)" font-size="9.70" fill="#000" text-anchor="middle">1</text>
<text id="xl3_4" class="k" transform="translate(216.30,644.60) scale(0.820,1)" font-size="9.70" fill="#000" text-anchor="middle">2</text>
<text id="ti3_0" class="t" x="26.00" y="380.10" font-size="14.10" fill="#000" textLength="58.00" lengthAdjust="spacingAndGlyphs">Difference</text>
<text id="ti3_1" class="t" x="89.00" y="380.10" font-size="14.10" fill="#000" textLength="10.00" lengthAdjust="spacingAndGlyphs">in</text>
<text id="ti3_2" class="t" x="104.00" y="380.10" font-size="14.10" fill="#000" textLength="17.00" lengthAdjust="spacingAndGlyphs">log</text>
<text id="ti3_3" class="t" x="125.00" y="380.10" font-size="14.10" fill="#000" textLength="14.00" lengthAdjust="spacingAndGlyphs">CI</text>
<text id="ti3_4" class="t" x="143.00" y="380.10" font-size="14.10" fill="#000" textLength="23.00" lengthAdjust="spacing">b/w</text>
<text id="ti3_5" class="t" x="171.00" y="380.10" font-size="14.10" fill="#000" textLength="17.00" lengthAdjust="spacing">IM</text>
<text id="ti3_6" class="t" x="192.00" y="380.10" font-size="14.10" fill="#000" textLength="21.00" lengthAdjust="spacingAndGlyphs">and</text>
<text id="ti3_7" class="t" x="218.00" y="380.10" font-size="14.10" fill="#000" textLength="22.00" lengthAdjust="spacing">NM</text>
<text id="xb3" x="59.00" y="664.40" font-size="12.20" fill="#000" textLength="151.00" lengthAdjust="spacingAndGlyphs">N = 5000   Bandwidth = 0.07921</text>
<text id="an3_0" x="131.00" y="431.30" font-size="8.30" fill="#000" textLength="77.00" lengthAdjust="spacingAndGlyphs">posterior mean:  0.16</text>
<text id="an3_1" x="129.00" y="447.80" font-size="8.30" fill="#000" textLength="81.00" lengthAdjust="spacingAndGlyphs">95% CI:  −0.67 to 0.98</text>
<text id="yl4_0" class="k" transform="translate(308.70,617.40) rotate(-90)" font-size="9.40" fill="#000" text-anchor="middle">0.0</text>
<text id="yl4_1" class="k" transform="translate(308.70,585.97) rotate(-90)" font-size="9.40" fill="#000" text-anchor="middle">0.2</text>
<text id="yl4_2" class="k" transform="translate(308.70,554.54) rotate(-90)" font-size="9.40" fill="#000" text-anchor="middle">0.4</text>
<text id="yl4_3" class="k" transform="translate(308.70,523.11) rotate(-90)" font-size="9.40" fill="#000" text-anchor="middle">0.6</text>
<text id="yl4_4" class="k" transform="translate(308.70,491.69) rotate(-90)" font-size="9.40" fill="#000" text-anchor="middle">0.8</text>
<text id="yl4_5" class="k" transform="translate(308.70,460.26) rotate(-90)" font-size="9.40" fill="#000" text-anchor="middle">1.0</text>
<text id="yl4_6" class="k" transform="translate(308.70,428.83) rotate(-90)" font-size="9.40" fill="#000" text-anchor="middle">1.2</text>
<text id="yl4_7" class="k" transform="translate(308.70,397.40) rotate(-90)" font-size="9.40" fill="#000" text-anchor="middle">1.4</text>
<text id="xl4_0" class="k" transform="translate(331.90,644.60) scale(0.820,1)" font-size="9.70" fill="#000" text-anchor="middle">−40</text>
<text id="xl4_1" class="k" transform="translate(377.65,644.60) scale(0.820,1)" font-size="9.70" fill="#000" text-anchor="middle">−30</text>
<text id="xl4_2" class="k" transform="translate(423.40,644.60) scale(0.820,1)" font-size="9.70" fill="#000" text-anchor="middle">−20</text>
<text id="xl4_3" class="k" transform="translate(469.15,644.60) scale(0.820,1)" font-size="9.70" fill="#000" text-anchor="middle">−10</text>
<text id="xl4_4" class="k" transform="translate(514.90,644.60) scale(0.820,1)" font-size="9.70" fill="#000" text-anchor="middle">0</text>
<text id="ti4_0" class="t" x="324.00" y="380.80" font-size="14.10" fill="#000" textLength="58.00" lengthAdjust="spacingAndGlyphs">Difference</text>
<text id="ti4_1" class="t" x="387.00" y="380.80" font-size="14.10" fill="#000" textLength="11.00" lengthAdjust="spacing">in</text>
<text id="ti4_2" class="t" x="402.00" y="380.80" font-size="14.10" fill="#000" textLength="17.00" lengthAdjust="spacingAndGlyphs">log</text>
<text id="ti4_3" class="t" x="423.00" y="380.80" font-size="14.10" fill="#000" textLength="14.00" lengthAdjust="spacingAndGlyphs">CI</text>
<text id="ti4_4" class="t" x="441.00" y="380.80" font-size="14.10" fill="#000" textLength="23.00" lengthAdjust="spacing">b/w</text>
<text id="ti4_5" class="t" x="469.00" y="380.80" font-size="14.10" fill="#000" textLength="21.00" lengthAdjust="spacingAndGlyphs">SM</text>
<text id="ti4_6" class="t" x="495.00" y="380.80" font-size="14.10" fill="#000" textLength="20.00" lengthAdjust="spacingAndGlyphs">and</text>
<text id="ti4_7" class="t" x="520.00" y="380.80" font-size="14.10" fill="#000" textLength="22.00" lengthAdjust="spacing">NM</text>
<text id="xb4" x="365.00" y="664.40" font-size="12.20" fill="#000" textLength="141.00" lengthAdjust="spacingAndGlyphs">N = 5000   Bandwidth = 1.536</text>
<text id="an4_0" x="449.00" y="509.60" font-size="8.30" fill="#000" textLength="86.00" lengthAdjust="spacingAndGlyphs">posterior mean:  −14.27</text>
<text id="an4_1" x="447.00" y="518.90" font-size="8.30" fill="#000" textLength="90.00" lengthAdjust="spacingAndGlyphs">95% CI:  −29.49 to −0.43</text>
</svg>
</body></html>
